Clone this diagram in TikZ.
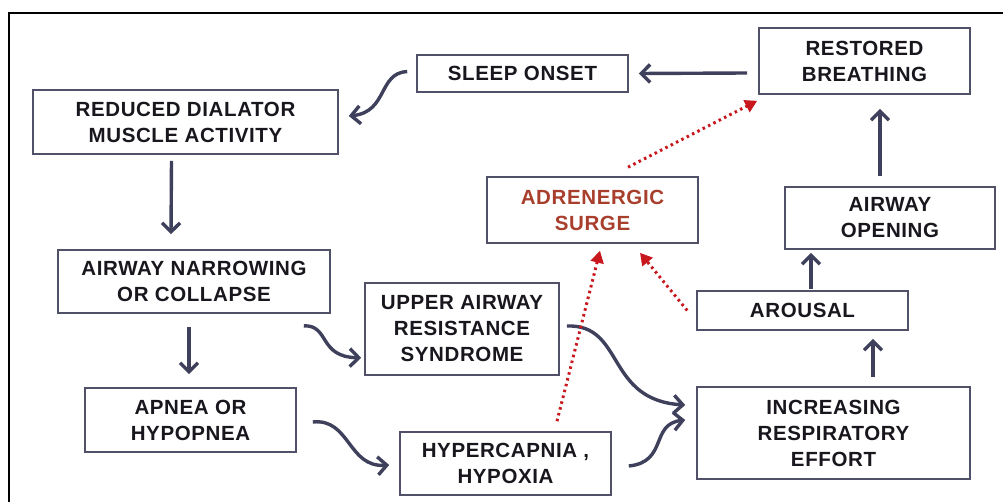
\documentclass[tikz,border=0pt]{standalone}
\usepackage{fontspec}
\setmainfont{Liberation Sans}
\usetikzlibrary{arrows.meta,calc}
\definecolor{arrc}{RGB}{62,64,92}
\definecolor{boxc}{RGB}{80,80,104}
\definecolor{redc}{RGB}{200,24,30}
\definecolor{adrc}{RGB}{168,62,44}
\definecolor{txtc}{RGB}{25,22,30}
\tikzset{
  box/.style={draw=boxc,line width=1.6pt,align=center,inner sep=0pt,
    font=\fontsize{20.5}{26}\selectfont\bfseries\addfontfeatures{LetterSpace=3},text=txtc},
  arr/.style={draw=arrc,line width=3.4pt,-{Straight Barb[length=9pt,width=18pt,line width=3.4pt]}},
  dots/.style={draw=redc,line width=3pt,dash pattern=on 2.5pt off 3.5pt,
    -{Triangle[length=12pt,width=13pt]}},
}
\begin{document}
\begin{tikzpicture}[x=1pt,y=-1pt]
\useasboundingbox (0,0) rectangle (1003,502);
\draw[line width=1.5pt,black] (9,502) -- (9,13) -- (1003,13);
\node[box,minimum width=211,minimum height=37] (sleep) at (522.5,73.5) {SLEEP ONSET};
\node[box,minimum width=211,minimum height=66] (restored) at (864.5,61) {RESTORED\\BREATHING};
\node[box,minimum width=305,minimum height=64] (reduced) at (185.5,122) {REDUCED DIALATOR\\MUSCLE ACTIVITY};
\node[box,minimum width=211,minimum height=66,text=adrc] (adren) at (592.5,210) {ADRENERGIC\\SURGE};
\node[box,minimum width=210,minimum height=62] (opening) at (890,218) {AIRWAY\\OPENING};
\node[box,minimum width=272,minimum height=63] (narrow) at (194,281.5) {AIRWAY NARROWING\\OR COLLAPSE};
\node[box,minimum width=194,minimum height=92] (uars) at (462,329) {UPPER AIRWAY\\RESISTANCE\\SYNDROME};
\node[box,minimum width=211,minimum height=39] (arousal) at (802.5,310.5) {AROUSAL};
\node[box,minimum width=211,minimum height=64] (apnea) at (190.5,420) {APNEA OR\\HYPOPNEA};
\node[box,minimum width=273,minimum height=92] (incr) at (833.5,433) {INCREASING\\RESPIRATORY\\EFFORT};
\node[box,minimum width=211,minimum height=63] (hyper) at (505.5,463.5) {HYPERCAPNIA ,\\HYPOXIA};
% straight arrows
\draw[arr] ($(restored.west)+(-11,12)$) -- ($(sleep.east)+(10,0)$);
\draw[arr] ($(reduced.south)+(-14,6)$) -- ($(narrow.north)+(-23,-15)$);
\draw[arr] ($(narrow.south)+(-5,13)$) -- ($(apnea.north)+(-1.5,-13)$);
\draw[arr] ($(incr.north)+(39.5,-9)$) -- ($(arousal.south)+(70.5,8)$);
\draw[arr] ($(arousal.north)+(8.5,-1)$) -- ($(opening.south)+(-79,3)$);
\draw[arr] ($(opening.north)+(-10,-10)$) -- ($(restored.south)+(15.5,14)$);
% curved arrows
\draw[arr] ($(sleep.west)+(-9,-2)$) .. controls (378,73) and (388,112) .. ($(reduced.east)+(10,-6)$);
\draw[arr] ($(narrow.south east)+(-27,12)$) .. controls (330,325) and (318,357) .. ($(uars.south west)+(-3,-18)$);
\draw[arr] ($(apnea.east)+(16,2)$) .. controls (350,418) and (348,468) .. ($(hyper.west)+(-10,1.5)$);
\draw[arr] ($(uars.east)+(7,-3)$) .. controls (625,324) and (605,400) .. ($(incr.west)+(-11,-28)$);
\draw[arr] ($(hyper.east)+(17,2.5)$) .. controls (668,462) and (650,424) .. ($(incr.west)+(-11,-13)$);
% red dotted arrows
\draw[dots] ($(adren.north)+(35.5,-9)$) -- ($(restored.south west)+(-1,6)$);
\draw[dots] ($(hyper.north)+(51.5,-10)$) -- ($(adren.south)+(7.5,7)$);
\draw[dots] ($(arousal.west)+(-9,0)$) -- ($(adren.south)+(47.5,9)$);
\end{tikzpicture}
\end{document}
